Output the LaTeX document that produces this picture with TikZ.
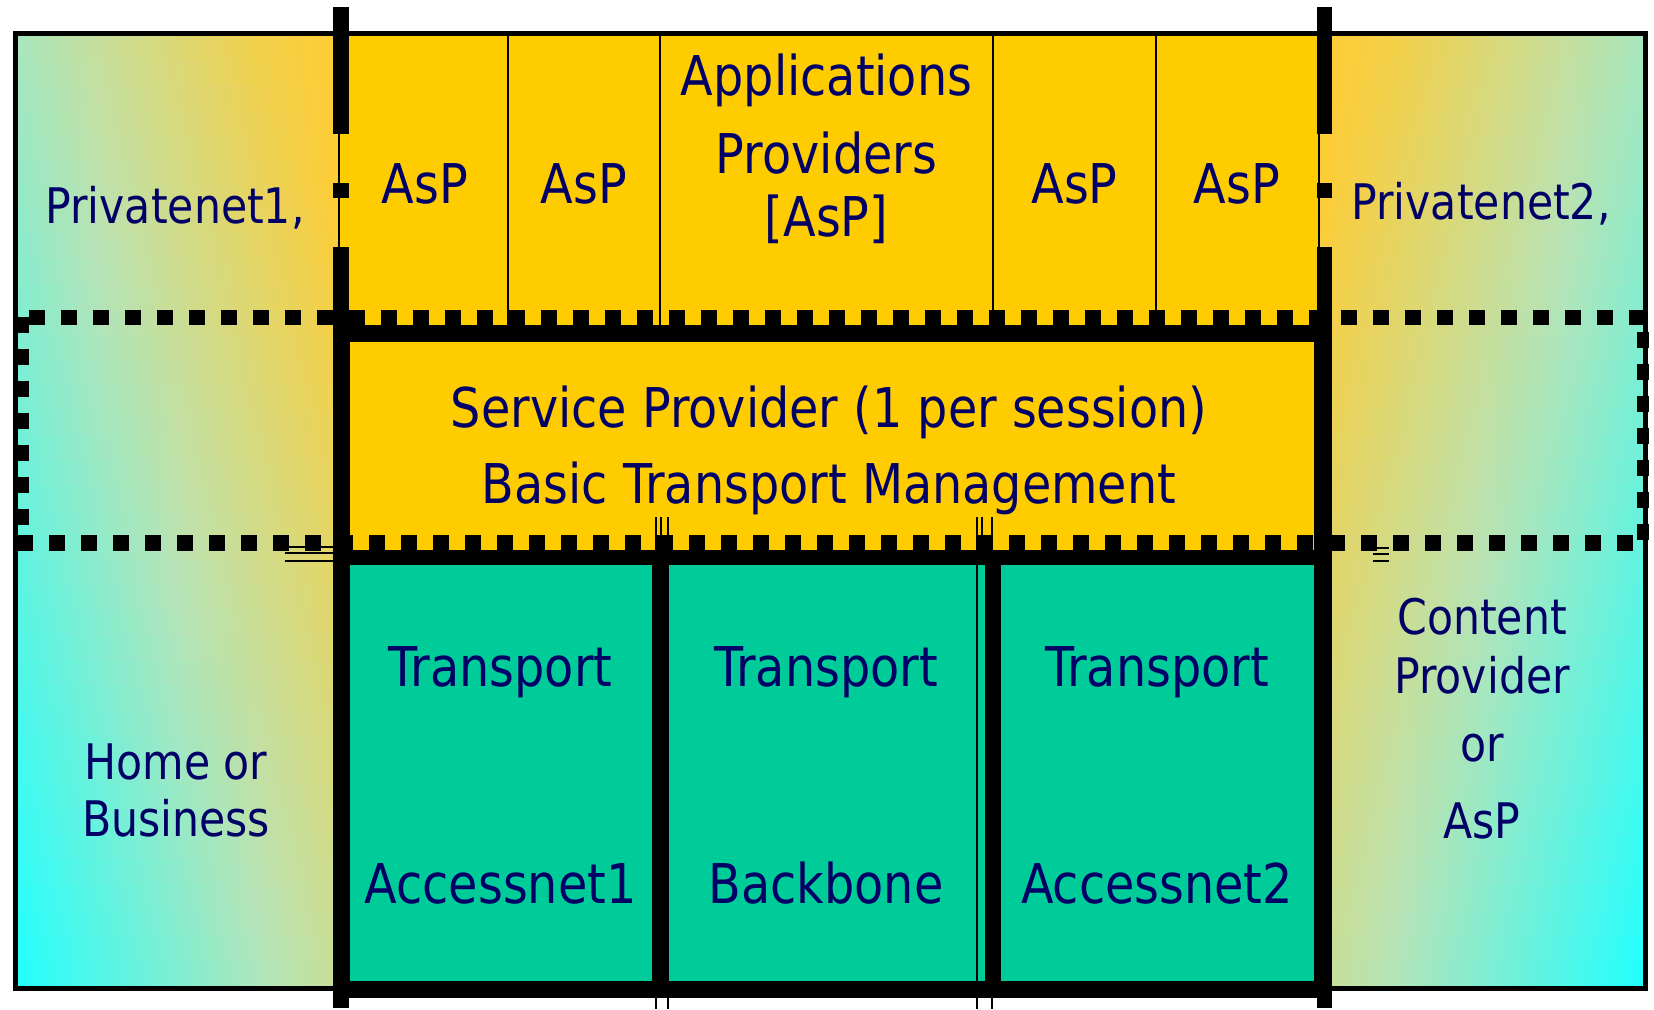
\documentclass[tikz,border=0pt]{standalone}
\usepackage{fontspec}
\setmainfont{DejaVu Sans}[FakeStretch=0.87]
\definecolor{aspyellow}{HTML}{FFCC00}
\definecolor{netgreen}{HTML}{00CC99}
\definecolor{labelblue}{HTML}{000066}
\definecolor{fadecyan}{HTML}{22FFFF}
\definecolor{fademid}{HTML}{B8E3B6}
\definecolor{fadeorange}{HTML}{FFCC33}
% colour of the side panels at fade level #2 (0 = cyan, 1 = orange)
\newcommand\fadecolor[2]{%
  \pgfmathsetmacro\fadepct{#2<0.5 ? 200*#2 : 200*(#2-0.5)}%
  \ifdim #2pt<0.5pt \colorlet{#1}{fademid!\fadepct!fadecyan}%
  \else \colorlet{#1}{fadeorange!\fadepct!fademid}\fi}
\begin{document}
\begin{tikzpicture}
[x=0.5pt,y=-0.5pt,
  biglabel/.style={text=labelblue,inner sep=0pt,align=center,font=\fontsize{27.4}{38}\selectfont},%
  smalllabel/.style={text=labelblue,inner sep=0pt,align=center,font=\fontsize{24.5}{28.5}\selectfont},%
  dotrow/.style={line width=8pt,dash pattern=on 8pt off 8pt},%
  heavybar/.style={line width=8pt},%
  hairline/.style={line width=0.75pt}]
\useasboundingbox (0,0) rectangle (1654,1009);
% side panels, in cells
\foreach \k in {0,...,37}{
  \pgfmathsetmacro\ytop{36+\k*24.974}
  \pgfmathsetmacro\ybot{min(\ytop+26,985)}
  \pgfmathsetmacro\vn{(\k+0.5)/38}
  \foreach \j in {0,...,3}{
    \pgfmathsetmacro\sa{min(1,0.62*\j/4+0.45*(1-\vn))}
    \pgfmathsetmacro\sb{min(1,0.62*(\j+1)/4+0.45*(1-\vn))}
    \fadecolor{fadeA}{\sa}\fadecolor{fadeB}{\sb}
    \pgfmathsetmacro\xa{17+\j*80.5}
    \pgfmathsetmacro\xc{1643-\j*81}
    \fill[left color=fadeA,right color=fadeB] (\xa,\ytop) rectangle (\xa+81,\ybot);
    \fill[left color=fadeB,right color=fadeA] (\xc-81.5,\ytop) rectangle (\xc,\ybot);
  }
}
% fills
\fill[aspyellow] (339,36) rectangle (1319,330);
\fill[aspyellow] (349,342) rectangle (1316,550);
\fill[netgreen] (349,565) rectangle (652,982);
\fill[netgreen] (667,565) rectangle (985,982);
\fill[netgreen] (1001,565) rectangle (1316,982);
% provider columns
\foreach \xd in {508,660,993,1156}
  \draw[line width=1pt] (\xd,36) -- (\xd,326);
% outer frame and dotted rows
\draw[line width=2.5pt] (15,33.5) rectangle (1645.5,988.5);
\draw[dotrow,line width=7.5pt] (29,317.5) -- (1645,317.5);
\draw[dotrow] (17,543) -- (1633,543);
\draw[dotrow] (21,317) -- (21,535);
\draw[dotrow,line width=6pt] (1643,332) -- (1643,540);
% small marks
\foreach \ya in {547,553,561}
  \draw[hairline] (285,\ya) -- (333,\ya);
\foreach \ya in {548,554,561}
  \draw[hairline] (1373,\ya) -- (1389,\ya);
\foreach \xa in {656,668,977,992}
  \draw[hairline] (\xa,517) -- (\xa,1009);
\draw[hairline] (661,517) -- (661,560);
\draw[hairline] (982,517) -- (982,560);
% heavy bars
\draw[line width=8.5pt] (341,333.5) rectangle (1322,989.5);
\draw[line width=7.5pt] (341,557.5) -- (1322,557.5);
\draw[line width=7.5pt] (659.5,557.5) -- (659.5,989.5);
\draw[heavybar] (993,557.5) -- (993,989.5);
\draw[heavybar] (341,7) -- (341,134);
\draw[heavybar] (341,247) -- (341,1008);
\draw[line width=1pt] (339,134) -- (339,247);
\fill (333,183) rectangle (349,198);
\draw[heavybar,line width=7.5pt] (1324.5,7) -- (1324.5,134);
\draw[heavybar,line width=7.5pt] (1324.5,247) -- (1324.5,1008);
\draw[line width=1pt] (1319,134) -- (1319,247);
\fill (1317,183) rectangle (1332,198);
% labels
\node[biglabel,anchor=base] (asp1) at (425,203) {AsP};
\node[biglabel,anchor=base] (asp2) at (584,203) {AsP};
\node[biglabel,anchor=base] (asp4) at (1074.5,203) {AsP};
\node[biglabel,anchor=base] (asp5) at (1237,203) {AsP};
\node[biglabel,font=\fontsize{27.4}{38.75}\selectfont] (apps) at (826.5,148.6)
  {Applications\\Providers\\[-7.25pt]{[}AsP{]}};
\node[biglabel] (service) at (829,449.9)
  {Service Provider (1 per session)\\Basic Transport Management};
\node[biglabel,anchor=base] (trans1) at (500.5,686) {Transport};
\node[biglabel,anchor=base] (trans2) at (826,686) {Transport};
\node[biglabel,anchor=base] (trans3) at (1157,686) {Transport};
\node[biglabel,anchor=base] (access1) at (500.5,903) {Accessnet1};
\node[biglabel,anchor=base] (backbone) at (826,903) {Backbone};
\node[biglabel,anchor=base] (access2) at (1157,903) {Accessnet2};
\node[smalllabel,anchor=base] (private1) at (175,223) {Privatenet1,};
\node[smalllabel,anchor=base] (private2) at (1481,219) {Privatenet2,};
\node[smalllabel] (home) at (176,790.4) {Home or\\Business};
\node[smalllabel,font=\fontsize{24.5}{34}\selectfont] (content) at (1482,718.6)
  {Content\\[-4.5pt]Provider\\or\\[4.5pt]AsP};
\end{tikzpicture}
\end{document}
